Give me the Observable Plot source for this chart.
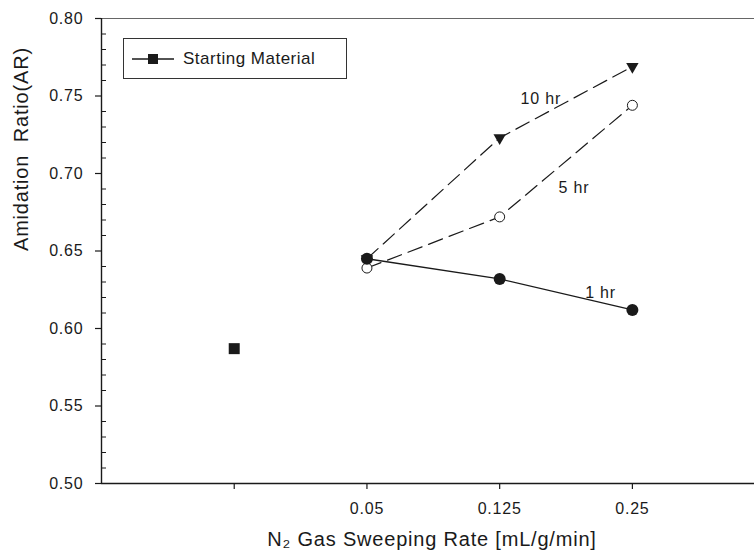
<!DOCTYPE html>
<html><head><meta charset="utf-8">
<script src="https://cdn.jsdelivr.net/npm/d3@7"></script>
<script src="https://cdn.jsdelivr.net/npm/@observablehq/plot@0.6"></script>
<style>
body{margin:0;background:#fff;}
#wrap{position:relative;width:754px;height:556px;font-family:"Liberation Sans",Arial,sans-serif;color:#1a1a1a;}
#wrap svg text{letter-spacing:0.8px;}
#legend{position:absolute;left:123px;top:38px;width:222px;height:39px;border:1px solid #333;background:#fff;display:flex;align-items:center;}
#legend span{font-size:17px;letter-spacing:0.5px;margin-left:0;}
</style></head><body><div id="wrap"></div>
<script>
// ---- data ----
const xTickLabels = ["", "0.05", "0.125", "0.25"];
const rates = ["0.05", "0.125", "0.25"];
const startingLabel = "Starting Material";
const startingValue = 0.587;
const ar1hr = [0.645, 0.632, 0.612];
const ar5hr = [0.639, 0.672, 0.744];
const ar10hr = [0.645, 0.723, 0.769];
const seriesNames = ["10 hr", "5 hr", "1 hr"];
const seriesLabelX = [3.31, 3.56, 3.76];
const seriesLabelY = [0.748, 0.691, 0.623];
const yTicks = [0.50, 0.55, 0.60, 0.65, 0.70, 0.75, 0.80];
const yMinorTicks = [0.51,0.52,0.53,0.54,0.56,0.57,0.58,0.59,0.61,0.62,0.63,0.64,0.66,0.67,0.68,0.69,0.71,0.72,0.73,0.74,0.76,0.77,0.78,0.79];
const xTitle = "N\u2082 Gas Sweeping Rate [mL/g/min]";
const yTitle = "Amidation\u00a0 Ratio(AR)";

const ink = "#1a1a1a";
const pos = r => xTickLabels.indexOf(r) + 1;
const rows = (vals, name) => rates.map((r, i) => ({x: pos(r), y: vals[i], s: name}));
const d10 = rows(ar10hr, "10 hr"), d5 = rows(ar5hr, "5 hr"), d1 = rows(ar1hr, "1 hr");
const dStart = [{x: pos(""), y: startingValue, s: startingLabel}];

const triangleDown = {draw(ctx, size) {
  const s = Math.sqrt(size * 4 / Math.sqrt(3)), h = s * Math.sqrt(3) / 2;
  ctx.moveTo(-s / 2, -h / 3); ctx.lineTo(s / 2, -h / 3); ctx.lineTo(0, 2 * h / 3); ctx.closePath();
}};

const chart = Plot.plot({
  width: 754, height: 556,
  marginLeft: 101, marginRight: 0, marginTop: 18, marginBottom: 73,
  x: {domain: [0, 4.92], axis: null},
  y: {domain: [0.5, 0.8], axis: null},
  style: {fontFamily: '"Liberation Sans", Arial, sans-serif', fontSize: "16px", color: ink, background: "#fff", overflow: "visible"},
  marks: [
    Plot.ruleY([0.8], {stroke: "#666", strokeWidth: 1}),
    Plot.axisY(yTicks, {tickSize: 6, tickPadding: 12, tickFormat: d3.format(".2f"), label: null, strokeWidth: 1.2, fontSize: 16}),
    Plot.axisY(yMinorTicks, {tickSize: -5, tickFormat: () => "", label: null, strokeWidth: 1}),
    Plot.axisX([1, 2, 3, 4], {tickSize: 6, tickPadding: 13, tickFormat: d => xTickLabels[d - 1], label: null, strokeWidth: 1.2, fontSize: 16}),
    Plot.ruleX([0], {stroke: ink, strokeWidth: 1.4}),
    Plot.ruleY([0.5], {stroke: ink, strokeWidth: 1.4}),
    Plot.line(d10, {x: "x", y: "y", stroke: ink, strokeWidth: 1.2, strokeDasharray: "15,7"}),
    Plot.line(d5, {x: "x", y: "y", stroke: ink, strokeWidth: 1.2, strokeDasharray: "15,7"}),
    Plot.line(d1, {x: "x", y: "y", stroke: ink, strokeWidth: 1.3}),
    Plot.dot(d10, {x: "x", y: "y", symbol: triangleDown, r: 4.6, fill: ink, stroke: "none"}),
    Plot.dot(d5, {x: "x", y: "y", symbol: "circle", r: 5, fill: "white", stroke: ink, strokeWidth: 1}),
    Plot.dot(d1, {x: "x", y: "y", symbol: "circle", r: 6, fill: ink, stroke: "none"}),
    Plot.dot(dStart, {x: "x", y: "y", symbol: "square", r: 6.2, fill: ink, stroke: "none"}),
    Plot.text(seriesNames, {x: (d, i) => seriesLabelX[i], y: (d, i) => seriesLabelY[i], text: d => d, fontSize: 16, fill: ink}),
    Plot.text([xTitle], {frameAnchor: "bottom", dy: 62, dx: 4, text: d => d, fontSize: 20, fill: ink}),
    Plot.text([yTitle], {frameAnchor: "left", dx: -80, rotate: -90, text: d => d, fontSize: 20, fill: ink})
  ]
});
const wrap = document.getElementById("wrap");
wrap.appendChild(chart);

// legend (inside plot area, top-left)
const legend = document.createElement("div");
legend.id = "legend";
legend.innerHTML = `<svg width="52" height="20" style="margin-left:7px"><line x1="1" x2="43" y1="10" y2="10" stroke="${ink}" stroke-width="1.3"/><rect x="17" y="5" width="10" height="10" fill="${ink}"/></svg><span>${startingLabel}</span>`;
wrap.appendChild(legend);
</script></body></html>
